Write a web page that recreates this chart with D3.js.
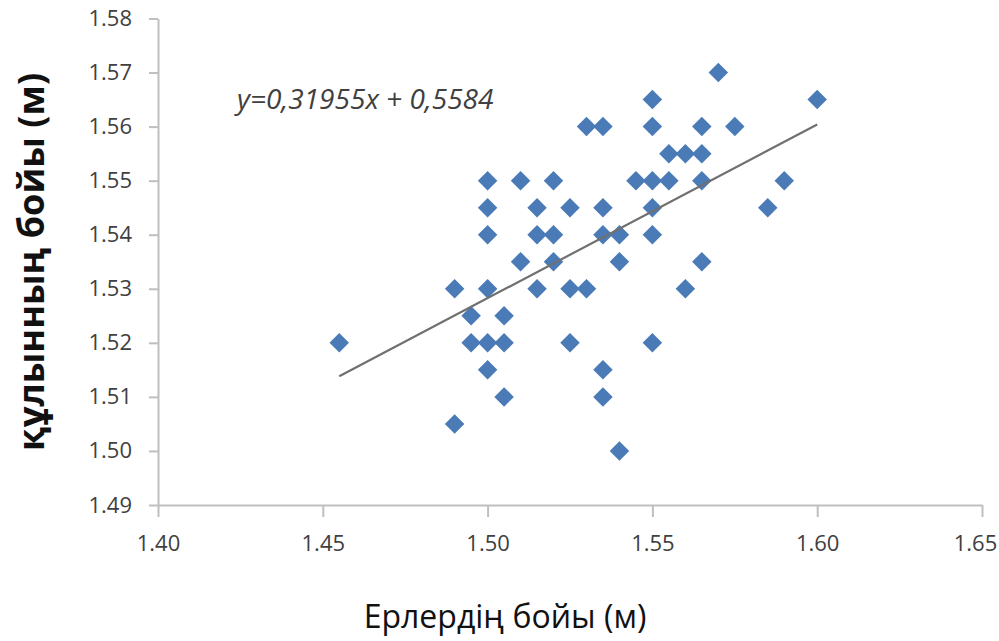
<!DOCTYPE html>
<html>
<head>
<meta charset="utf-8">
<script src="https://cdn.jsdelivr.net/npm/d3@7"></script>
<style>
  body { margin: 0; background: #fff; }
  svg { display: block; }
</style>
</head>
<body>
<div id="chart"></div>
<script>
// father height (x) vs foal height (y)
var fatherHeight = [
    1.455, 1.49, 1.49, 1.495, 1.495, 1.50, 1.50, 1.50, 1.50, 1.50, 1.50,
    1.505, 1.505, 1.505, 1.51, 1.51, 1.515, 1.515, 1.515, 1.52, 1.52, 1.52,
    1.525, 1.525, 1.525, 1.53, 1.53, 1.535, 1.535, 1.535, 1.535, 1.535,
    1.54, 1.54, 1.54, 1.545, 1.55, 1.55, 1.55, 1.55, 1.55, 1.55,
    1.555, 1.555, 1.56, 1.56, 1.565, 1.565, 1.565, 1.565, 1.57, 1.575,
    1.585, 1.59, 1.60
];
var foalHeight = [
    1.52, 1.53, 1.505, 1.525, 1.52, 1.55, 1.545, 1.54, 1.53, 1.52, 1.515,
    1.525, 1.52, 1.51, 1.535, 1.55, 1.545, 1.54, 1.53, 1.55, 1.54, 1.535,
    1.545, 1.53, 1.52, 1.56, 1.53, 1.56, 1.545, 1.54, 1.515, 1.51,
    1.54, 1.535, 1.50, 1.55, 1.565, 1.56, 1.55, 1.545, 1.54, 1.52,
    1.555, 1.55, 1.555, 1.53, 1.56, 1.555, 1.55, 1.535, 1.57, 1.56,
    1.545, 1.55, 1.565
];
// trend line as drawn (end points)
var trendX = [1.455, 1.60];
var trendY = [1.5138, 1.5604];

var xTicks = [1.40, 1.45, 1.50, 1.55, 1.60, 1.65];
var yTicks = [1.49, 1.50, 1.51, 1.52, 1.53, 1.54, 1.55, 1.56, 1.57, 1.58];

var equationText = "y=0,31955x + 0,5584";
var xTitle = "Ерлердің бойы (м)";
var yTitle = "құлынның бойы (м)";

var width = 999, height = 641;
var axisColor = "#bfbfbf";
var textColor = "#404040";
var font = "'Open Sans', sans-serif";

var x = d3.scaleLinear().domain([1.40, 1.65]).range([158, 982]);
var y = d3.scaleLinear().domain([1.49, 1.58]).range([505, 18.5]);

var svg = d3.select("#chart").append("svg")
    .attr("width", width).attr("height", height);

// axes
var xAxis = svg.append("g")
    .attr("transform", "translate(0," + y(1.49) + ")")
    .call(d3.axisBottom(x).tickValues(xTicks).tickFormat(d3.format(".2f"))
        .tickSizeInner(12).tickSizeOuter(0).tickPadding(18));
var yAxis = svg.append("g")
    .attr("transform", "translate(" + x(1.40) + ",0)")
    .call(d3.axisLeft(y).tickValues(yTicks).tickFormat(d3.format(".2f"))
        .tickSizeInner(9).tickSizeOuter(0).tickPadding(17));

[xAxis, yAxis].forEach(function (ax) {
    ax.attr("font-family", font).attr("font-size", 22);
    ax.select(".domain").attr("stroke", axisColor).attr("stroke-width", 2);
    ax.selectAll(".tick line").attr("stroke", axisColor).attr("stroke-width", 2);
    ax.selectAll(".tick text").attr("fill", textColor);
});
// keep the last x label inside the page
xAxis.selectAll(".tick text").filter(function (d) { return d === 1.65; })
    .attr("dx", "-7px");

// points
var points = fatherHeight.map(function (d, i) { return [d, foalHeight[i]]; });
var diamond = d3.symbol().type(d3.symbolSquare).size(190);
svg.append("g").selectAll("path")
    .data(points)
    .enter().append("path")
    .attr("d", diamond)
    .attr("transform", function (d) {
        return "translate(" + x(d[0]) + "," + y(d[1]) + ") rotate(45)";
    })
    .attr("fill", "#4a7bb7");

// trend line
svg.append("line")
    .attr("x1", x(trendX[0])).attr("y1", y(trendY[0]))
    .attr("x2", x(trendX[1])).attr("y2", y(trendY[1]))
    .attr("stroke", "#707070").attr("stroke-width", 2.2);

// equation
svg.append("text")
    .attr("x", 237).attr("y", 109)
    .attr("fill", textColor)
    .style("font-family", font)
    .style("font-style", "italic")
    .style("font-size", "28px")
    .text(equationText);

// axis titles
svg.append("text")
    .attr("x", 505).attr("y", 628)
    .attr("text-anchor", "middle")
    .attr("fill", "#111")
    .style("font-family", font)
    .style("font-size", "32px")
    .text(xTitle);

svg.append("text")
    .attr("transform", "translate(44,262) rotate(-90)")
    .attr("text-anchor", "middle")
    .attr("fill", "#111")
    .style("font-family", font)
    .style("font-weight", "bold")
    .style("font-size", "36px")
    .text(yTitle);
</script>
</body>
</html>
